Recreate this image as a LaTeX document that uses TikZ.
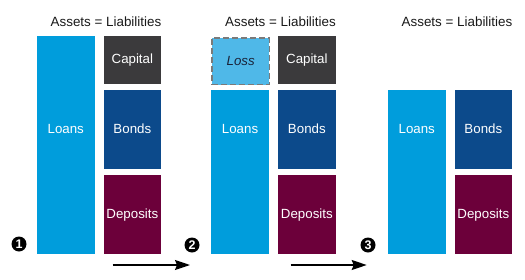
\documentclass[tikz,border=0pt]{standalone}
\usepackage{fontspec}
\setmainfont{Liberation Sans}
\usetikzlibrary{arrows.meta}
\definecolor{loanc}{HTML}{009DDC}
\definecolor{lossc}{HTML}{4FB8E8}
\definecolor{capc}{HTML}{3B3A3C}
\definecolor{bondc}{HTML}{0C4A8B}
\definecolor{depc}{HTML}{6C003A}
\definecolor{dashc}{HTML}{7A7A7A}
\definecolor{losst}{HTML}{1A2238}
\tikzset{
  blk/.style={anchor=north west, inner sep=0pt, minimum width=57.7pt, draw=none, text=white, font=\fontsize{13.3}{15}\selectfont},
  lbl/.style={inner sep=0pt, text=white, font=\fontsize{13.3}{15}\selectfont},
  ttl/.style={inner sep=0pt, anchor=east, text=black!90, font=\fontsize{13.4}{15}\selectfont},
  numc/.style={circle, fill=black, inner sep=0pt, minimum size=15pt, text=white, font=\bfseries\fontsize{12.5}{13}\selectfont},
  flow/.style={line width=1.4pt, -{Stealth[length=15pt,width=10pt,inset=2pt]}}
}
\begin{document}
\begin{tikzpicture}[x=1pt,y=-1pt]
\useasboundingbox (0,0) rectangle (525,279);
% Panel 1
\node[blk, fill=loanc, minimum height=218pt] (loans1) at (36.7,36) {};
\node[blk, fill=capc, minimum height=48pt] (cap1) at (103.3,36) {Capital};
\node[blk, fill=bondc, minimum height=79pt] (bonds1) at (103.3,89.3) {Bonds};
\node[blk, fill=depc, minimum height=79pt] (dep1) at (103.3,175) {Deposits};
\node[lbl] (loans1t) at (loans1.center |- bonds1.center) {Loans};
\node[ttl, anchor=base east] (t1) at (161.5,26) {Assets = Liabilities};
% Panel 2
\node[blk, fill=lossc, minimum height=46.5pt, draw=dashc, line width=1.6pt, dash pattern=on 6pt off 3pt, minimum width=57.3pt, text=losst, font=\itshape\fontsize{13.3}{15}\selectfont] (loss) at (211.3,37.3) {Loss};
\node[blk, fill=loanc, minimum height=164pt] (loans2) at (211,90) {};
\node[blk, fill=capc, minimum height=48pt] (cap2) at (277.8,36) {Capital};
\node[blk, fill=bondc, minimum height=79pt] (bonds2) at (277.8,89.3) {Bonds};
\node[blk, fill=depc, minimum height=79pt] (dep2) at (277.8,175) {Deposits};
\node[lbl] (loans2t) at (loans2.center |- bonds2.center) {Loans};
\node[ttl, anchor=base east] (t2) at (336,26) {Assets = Liabilities};
% Panel 3
\node[blk, fill=loanc, minimum height=164pt] (loans3) at (387.7,90) {};
\node[blk, fill=bondc, minimum height=79pt] (bonds3) at (454.3,89.3) {Bonds};
\node[blk, fill=depc, minimum height=79pt] (dep3) at (454.3,175) {Deposits};
\node[lbl] (loans3t) at (loans3.center |- bonds3.center) {Loans};
\node[ttl, anchor=base east] (t3) at (512.5,26) {Assets = Liabilities};
% step numbers
\node[numc] (n1) at (19,244) {1};
\node[numc] (n2) at (192,245) {2};
\node[numc] (n3) at (368,245) {3};
% arrows
\coordinate (a1s) at (112.7,265);
\coordinate (a1e) at (190,265);
\coordinate (a2s) at (290.7,265);
\coordinate (a2e) at (366.7,265);
\draw[flow] (a1s) -- (a1e);
\draw[flow] (a2s) -- (a2e);
\end{tikzpicture}
\end{document}
